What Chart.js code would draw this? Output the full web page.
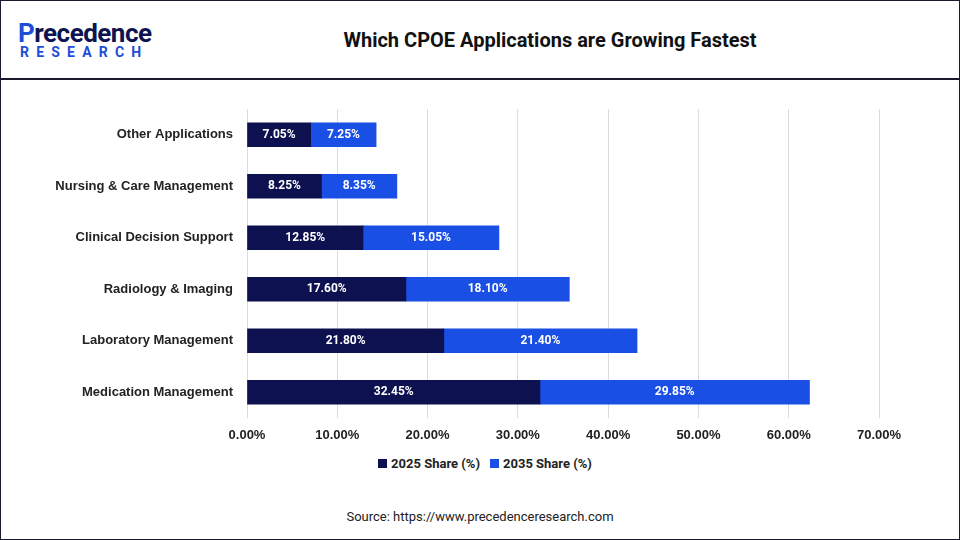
<!DOCTYPE html>
<html>
<head>
<meta charset="utf-8">
<script src="https://cdn.jsdelivr.net/npm/chart.js@4"></script>
<style>
  body { margin: 0; width: 960px; height: 540px; overflow: hidden; font-family: Roboto, "Open Sans", sans-serif; background: #fff; }
  #frame { position: absolute; left: 0; top: 0; width: 958px; height: 538px; border: 1px solid #1a1a2e; }
  #header { position: absolute; left: 0; top: 0; width: 960px; height: 78px; border-bottom: 2px solid #1a1a2e; }
  #logo1 { position: absolute; left: 18px; top: 18px; font-size: 26px; font-weight: bold; color: #0d1450; letter-spacing: -0.5px; }
  #logo1 span { color: #1d4ed8; }
  #logo2 { position: absolute; left: 20px; top: 44px; font-size: 14px; font-weight: bold; color: #1d4ed8; letter-spacing: 7.2px; }
  #title { position: absolute; left: 250px; width: 600px; top: 28px; text-align: center; font-size: 20px; font-weight: bold; color: #111; }
  #wrap { position: absolute; left: 0; top: 80px; width: 960px; height: 370px; }
  #legend { position: absolute; top: 456px; left: 0; width: 960px; text-align: center; font-size: 13px; font-weight: bold; color: #222; }
  #legend i { display: inline-block; width: 9px; height: 9px; margin: 0 4px 0 10px; }
  #source { position: absolute; top: 509px; width: 960px; text-align: center; font-size: 13px; color: #222; }
</style>
</head>
<body>
<div id="frame"></div>
<div id="header">
  <div id="logo1"><span>P</span>recedence</div>
  <div id="logo2">RESEARCH</div>
  <div id="title">Which CPOE Applications are Growing Fastest</div>
</div>
<div id="wrap"><canvas id="c"></canvas></div>
<div id="legend"><i style="background:#0d1150"></i>2025 Share (%)<i style="background:#1a4fe6"></i>2035 Share (%)</div>
<div id="source">Source: https://www.precedenceresearch.com</div>
<script>
const categories = ['Other Applications', 'Nursing & Care Management', 'Clinical Decision Support', 'Radiology & Imaging', 'Laboratory Management', 'Medication Management'];
const share2025 = [7.05, 8.25, 12.85, 17.60, 21.80, 32.45];
const share2035 = [7.25, 8.35, 15.05, 18.10, 21.40, 29.85];

const labelPlugin = {
  id: 'labels',
  afterDatasetsDraw(chart) {
    const ctx = chart.ctx;
    ctx.save();
    ctx.fillStyle = '#fff';
    ctx.font = 'bold 12px Roboto, sans-serif';
    ctx.textAlign = 'center';
    ctx.textBaseline = 'middle';
    chart.data.datasets.forEach((ds, i) => {
      chart.getDatasetMeta(i).data.forEach((bar, j) => {
        const cx = (bar.x + bar.base) / 2;
        ctx.fillText(ds.data[j].toFixed(2) + '%', cx, bar.y);
      });
    });
    ctx.restore();
  }
};

new Chart(document.getElementById('c'), {
  type: 'bar',
  data: {
    labels: categories,
    datasets: [
      { label: '2025 Share (%)', data: share2025, backgroundColor: '#0d1150', barThickness: 24 },
      { label: '2035 Share (%)', data: share2035, backgroundColor: '#1a4fe6', barThickness: 24 }
    ]
  },
  options: {
    indexAxis: 'y',
    responsive: true,
    maintainAspectRatio: false,
    animation: false,
    layout: { padding: { top: 29, right: 81, bottom: 0, left: 0 } },
    plugins: { legend: { display: false }, tooltip: { enabled: false } },
    scales: {
      x: {
        stacked: true, min: 0, max: 70,
        ticks: { stepSize: 10, color: '#222', padding: 10, font: { size: 13, weight: 'bold' }, callback: v => v.toFixed(2) + '%' },
        grid: { color: '#dcdcdc', drawTicks: false },
        border: { display: false },
        afterFit(s) { s.height = 32; }
      },
      y: {
        stacked: true,
        ticks: { color: '#222', font: { size: 13, weight: 'bold' }, padding: 6 },
        grid: { display: false },
        border: { display: false },
        afterFit(s) { s.width = 247; }
      }
    }
  },
  plugins: [labelPlugin]
});
</script>
</body>
</html>
